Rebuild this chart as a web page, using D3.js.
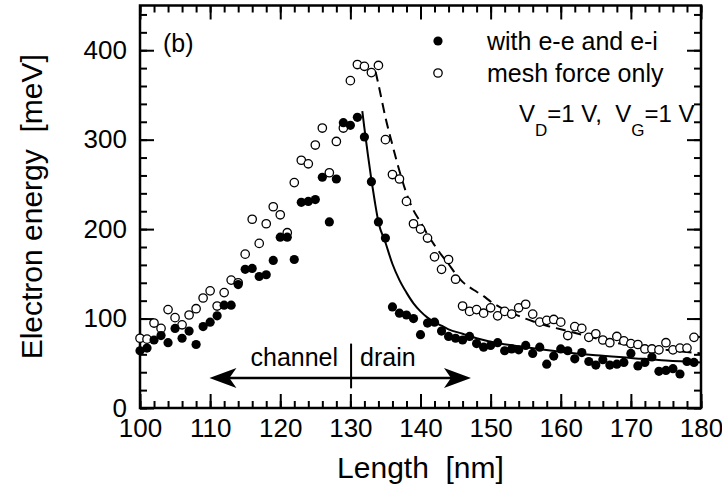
<!DOCTYPE html>
<html>
<head>
<meta charset="utf-8">
<script src="https://cdn.jsdelivr.net/npm/d3@7"></script>
<style>
  body { margin: 0; background: #fff; }
  svg text { font-family: "Liberation Sans", Arial, sans-serif; fill: #000; }
</style>
</head>
<body>
<div id="chart"></div>
<script>
// positions along the device [nm]
const lengths = [100,101,102,103,104,105,106,107,108,109,110,111,112,113,114,115,116,117,118,119,
                 120,121,122,123,124,125,126,127,128,129,130,131,132,133,134,135,136,137,138,139,
                 140,141,142,143,144,145,146,147,148,149,150,151,152,153,154,155,156,157,158,159,
                 160,161,162,163,164,165,166,167,168,169,170,171,172,173,174,175,176,177,178,179];

// electron energy [meV], filled circles: with e-e and e-i
const withScattering = [64,67,76,81,73,89,78,86,71,91,96,103,115,115,138,155,156,147,149,165,
                        191,191,166,230,231,233,258,208,256,319,316,325,303,253,208,190,113,106,104,100,
                        82,95,96,86,80,78,76,80,72,68,70,73,64,66,65,70,61,68,49,58,
                        66,64,55,62,52,48,54,48,49,51,61,47,51,57,41,42,44,38,52,51];

// open circles: mesh force only
const meshOnly = [78,77,95,89,110,101,93,104,111,123,131,114,129,143,140,172,211,184,206,225,
                  216,196,252,277,273,294,313,263,298,313,366,384,382,375,383,300,261,256,231,206,
                  200,190,169,155,166,144,114,108,110,106,112,103,108,105,112,116,105,96,98,99,
                  96,81,91,89,79,83,76,73,80,75,72,71,66,66,65,73,65,67,67,79];

// fitted curves
const solidX = [131.7,132,132.5,133,133.5,134,135,136,137,138,139,140,141,142,143,144,146,148,150,155,160,165,170,175,180];
const solidY = [332,313,283,255,230,208,185,161,143,129,117,108,101,96,92,88,83,78,74,68,63,59,56,53,51];
const dashX = [133.6,134,135,136,137,138,139,140,141,142,143,144,145,146,147,148,149,150,152,154,156,158,160,163,166,170,175,180];
const dashY = [376,362,325,294,265,240,221,208,194,182,171,161,150,141,135,130,125,119,110,103,97,92,88,82,76,70,65,61];

const xTicks = [100,110,120,130,140,150,160,170,180];
const yTicks = [0,100,200,300,400];

const W = 722, H = 500;
const plotL = 140, plotR = 701, plotT = 5.5, plotB = 408;

const svg = d3.select("#chart").append("svg")
  .attr("width", W).attr("height", H);

const x = d3.scaleLinear().domain([100, 180]).range([plotL, plotR]);
const y = d3.scaleLinear().domain([0, 450]).range([plotB, plotT]);

const minorX = d3.range(100, 181, 2);
const minorY = d3.range(0, 451, 20);

// axes: ticks pointing inwards on all four sides
function styleAxis(g) {
  g.select(".domain").remove();
  g.selectAll(".tick line").attr("stroke", "#000").attr("stroke-width", 2);
  g.selectAll(".tick text").style("font-size", "26px").attr("fill", "#000");
}

svg.append("g").attr("transform", `translate(0,${plotB})`)
  .call(d3.axisBottom(x).tickValues(minorX).tickSizeInner(-7).tickSizeOuter(0).tickFormat(""))
  .call(styleAxis);
svg.append("g").attr("transform", `translate(0,${plotB})`)
  .call(d3.axisBottom(x).tickValues(xTicks).tickSizeInner(-14).tickSizeOuter(0).tickPadding(11))
  .call(styleAxis);
svg.append("g").attr("transform", `translate(0,${plotT})`)
  .call(d3.axisTop(x).tickValues(minorX).tickSizeInner(-7).tickSizeOuter(0).tickFormat(""))
  .call(styleAxis);
svg.append("g").attr("transform", `translate(0,${plotT})`)
  .call(d3.axisTop(x).tickValues(xTicks).tickSizeInner(-14).tickSizeOuter(0).tickFormat(""))
  .call(styleAxis);

svg.append("g").attr("transform", `translate(${plotL},0)`)
  .call(d3.axisLeft(y).tickValues(minorY).tickSizeInner(-7).tickSizeOuter(0).tickFormat(""))
  .call(styleAxis);
svg.append("g").attr("transform", `translate(${plotL},0)`)
  .call(d3.axisLeft(y).tickValues(yTicks).tickSizeInner(-14).tickSizeOuter(0).tickPadding(13))
  .call(styleAxis);
svg.append("g").attr("transform", `translate(${plotR},0)`)
  .call(d3.axisRight(y).tickValues(minorY).tickSizeInner(-7).tickSizeOuter(0).tickFormat(""))
  .call(styleAxis);
svg.append("g").attr("transform", `translate(${plotR},0)`)
  .call(d3.axisRight(y).tickValues(yTicks).tickSizeInner(-14).tickSizeOuter(0).tickFormat(""))
  .call(styleAxis);

// frame
svg.append("rect")
  .attr("x", plotL).attr("y", plotT)
  .attr("width", plotR - plotL).attr("height", plotB - plotT)
  .attr("fill", "none").attr("stroke", "#000").attr("stroke-width", 2.5);

// axis titles
svg.append("text")
  .attr("x", (plotL + plotR) / 2).attr("y", 478)
  .attr("text-anchor", "middle")
  .style("font-size", "30px")
  .attr("xml:space", "preserve")
  .text("Length  [nm]");

svg.append("text")
  .attr("transform", `translate(42,${(plotT + plotB) / 2}) rotate(-90)`)
  .attr("text-anchor", "middle")
  .style("font-size", "30px")
  .attr("xml:space", "preserve")
  .text("Electron energy  [meV]");

// fit curves
const line = d3.line().x(d => x(d[0])).y(d => y(d[1])).curve(d3.curveMonotoneX);

svg.append("path")
  .datum(dashX.map((v, i) => [v, dashY[i]]))
  .attr("d", line)
  .attr("fill", "none").attr("stroke", "#000").attr("stroke-width", 2)
  .attr("stroke-dasharray", "10,6");

svg.append("path")
  .datum(solidX.map((v, i) => [v, solidY[i]]))
  .attr("d", line)
  .attr("fill", "none").attr("stroke", "#000").attr("stroke-width", 2);

// scatter points
svg.append("g").selectAll("circle")
  .data(lengths.map((v, i) => [v, meshOnly[i]]))
  .join("circle")
  .attr("cx", d => x(d[0])).attr("cy", d => y(d[1]))
  .attr("r", 4.2)
  .attr("fill", "#fff").attr("stroke", "#000").attr("stroke-width", 1.3);

svg.append("g").selectAll("circle")
  .data(lengths.map((v, i) => [v, withScattering[i]]))
  .join("circle")
  .attr("cx", d => x(d[0])).attr("cy", d => y(d[1]))
  .attr("r", 4.6)
  .attr("fill", "#000");

// panel label
svg.append("text").attr("x", 163).attr("y", 52)
  .style("font-size", "25px").text("(b)");

// legend
const legend = [
  {label: "with e-e and e-i", filled: true},
  {label: "mesh force only", filled: false}
];
const lg = svg.append("g").selectAll("g").data(legend).join("g")
  .attr("transform", (d, i) => `translate(438,${41 + i * 32})`);
lg.append("circle")
  .attr("r", d => d.filled ? 4.6 : 4.2)
  .attr("fill", d => d.filled ? "#000" : "#fff")
  .attr("stroke", d => d.filled ? "none" : "#000")
  .attr("stroke-width", 1.3);
lg.append("text").attr("x", 49).attr("y", 9)
  .style("font-size", "25px").text(d => d.label);

// bias conditions
const bias = svg.append("text").attr("x", 519).attr("y", 122)
  .style("font-size", "24px").attr("xml:space", "preserve");
bias.append("tspan").text("V");
bias.append("tspan").attr("dy", 14).style("font-size", "17px").text("D");
bias.append("tspan").attr("dy", -14).text("=1 V,  V");
bias.append("tspan").attr("dy", 14).style("font-size", "17px").text("G");
bias.append("tspan").attr("dy", -14).text("=1 V");

// channel / drain arrow
const arrowFrom = 109.9, arrowTo = 147.2, arrowLevel = 33.5, boundary = 130.1;
const ay = y(arrowLevel);
svg.append("line")
  .attr("x1", x(arrowFrom) + 10).attr("x2", x(arrowTo) - 10)
  .attr("y1", ay).attr("y2", ay)
  .attr("stroke", "#000").attr("stroke-width", 2.5);
const head = "M0,0 L-27,-10 L-20,0 L-27,10 Z";
svg.append("path").attr("d", head)
  .attr("transform", `translate(${x(arrowTo)},${ay})`);
svg.append("path").attr("d", head)
  .attr("transform", `translate(${x(arrowFrom)},${ay}) scale(-1,1)`);
svg.append("line")
  .attr("x1", x(boundary)).attr("x2", x(boundary))
  .attr("y1", y(72)).attr("y2", y(22))
  .attr("stroke", "#000").attr("stroke-width", 2);
svg.append("text").attr("x", x(boundary) - 13).attr("y", 366)
  .attr("text-anchor", "end").style("font-size", "25px").text("channel");
svg.append("text").attr("x", x(boundary) + 9).attr("y", 366)
  .style("font-size", "25px").text("drain");
</script>
</body>
</html>
